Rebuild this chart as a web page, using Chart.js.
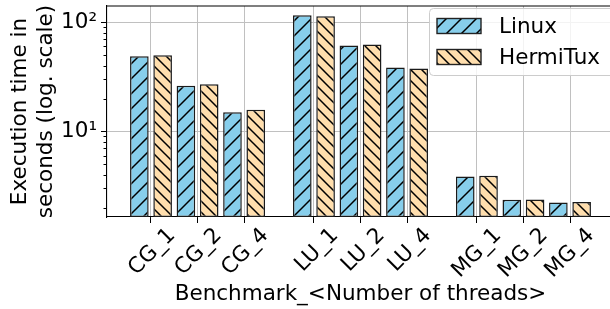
<!DOCTYPE html>
<html>
<head>
<meta charset="utf-8">
<script src="https://cdn.jsdelivr.net/npm/chart.js@4"></script>
<style>
  html, body { margin: 0; padding: 0; background: #fff; overflow: hidden; }
  #wrap { width: 610px; height: 309px; overflow: hidden; position: relative; }
  #wrap canvas { position: absolute; left: 0; top: 0; }
</style>
</head>
<body>
<div id="wrap"><canvas id="bench" width="615" height="309"></canvas></div>
<script>
var benchmarks = ["CG_1", "CG_2", "CG_4", "LU_1", "LU_2", "LU_4", "MG_1", "MG_2", "MG_4"];
var positions = [0, 1, 2, 3.5, 4.5, 5.5, 7, 8, 9];
var linuxTimes = [48.8, 26.2, 15.0, 115.9, 61.1, 38.4, 3.85, 2.36, 2.23];
var hermitTimes = [49.8, 27.0, 15.8, 113.5, 62.4, 37.6, 3.92, 2.37, 2.25];
var yMajorTicks = [10, 100];
var yMajorLabels = ["10\u00B9", "10\u00B2"];
var yMinorTicks = [2, 3, 4, 5, 6, 7, 8, 9, 20, 30, 40, 50, 60, 70, 80, 90];

var FONT = "'DejaVu Sans', sans-serif";
var FSIZE = 21.5;

// hatch fill, like matplotlib's '/' and '\' hatches
function makeHatch(bg, dir, step) {
  var c = document.createElement("canvas");
  c.width = step; c.height = step;
  var g = c.getContext("2d");
  g.fillStyle = bg;
  g.fillRect(0, 0, step, step);
  g.strokeStyle = "#000";
  g.lineWidth = 1.5;
  g.beginPath();
  if (dir === "/") {
    g.moveTo(0, step); g.lineTo(step, 0);
    g.moveTo(-2, 2); g.lineTo(2, -2);
    g.moveTo(step - 2, step + 2); g.lineTo(step + 2, step - 2);
  } else {
    g.moveTo(0, 0); g.lineTo(step, step);
    g.moveTo(step - 2, -2); g.lineTo(step + 2, 2);
    g.moveTo(-2, step - 2); g.lineTo(2, step + 2);
  }
  g.stroke();
  return g.createPattern(c, "repeat");
}

var linuxFill = makeHatch("#87ceeb", "/", 15);
var hermitFill = makeHatch("#ffdead", "\\", 11);

function toPoints(vals) {
  return vals.map(function (v, i) { return { x: positions[i], y: v }; });
}

// spines on top/right + minor log ticks
var frame = {
  id: "frame",
  afterDraw: function (chart) {
    var ctx = chart.ctx, a = chart.chartArea, y = chart.scales.y;
    ctx.save();
    ctx.strokeStyle = "#000";
    ctx.lineWidth = 1.1;
    ctx.beginPath();
    ctx.moveTo(a.left, a.top); ctx.lineTo(a.right, a.top);
    ctx.lineTo(a.right, a.bottom);
    ctx.stroke();
    ctx.lineWidth = 1;
    ctx.beginPath();
    yMinorTicks.forEach(function (v) {
      var p = Math.round(y.getPixelForValue(v)) + 0.5;
      ctx.moveTo(a.left - 3.5, p); ctx.lineTo(a.left, p);
    });
    ctx.stroke();
    ctx.restore();
  }
};

// matplotlib-style legend box in the upper right
var legendBox = {
  id: "legendBox",
  afterDraw: function (chart) {
    var ctx = chart.ctx, a = chart.chartArea;
    var x0 = a.right - 185, y0 = a.top + 2, w = 200, h = 67;
    ctx.save();
    ctx.beginPath();
    ctx.roundRect(x0 + 0.5, y0 + 0.5, w, h, 4);
    ctx.fillStyle = "rgba(255,255,255,0.8)";
    ctx.fill();
    ctx.strokeStyle = "#cccccc";
    ctx.lineWidth = 1;
    ctx.stroke();
    ctx.font = FSIZE + "px " + FONT;
    ctx.textBaseline = "alphabetic";
    chart.data.datasets.forEach(function (ds, i) {
      var ry = y0 + 10.5 + i * 31;
      ctx.fillStyle = ds.backgroundColor;
      ctx.fillRect(x0 + 8, ry, 44, 15);
      ctx.strokeStyle = "#222";
      ctx.lineWidth = 1.4;
      ctx.strokeRect(x0 + 8, ry, 44, 15);
      ctx.fillStyle = "#000";
      ctx.fillText(ds.label, x0 + 70, ry + 14);
    });
    ctx.restore();
  }
};

var ctx = document.getElementById("bench").getContext("2d");
var benchChart = new Chart(ctx, {
  type: "bar",
  data: {
    datasets: [
      {
        label: "Linux",
        data: toPoints(linuxTimes),
        backgroundColor: linuxFill,
        borderColor: "#1a1a1a",
        borderWidth: 1.5,
        borderSkipped: false
      },
      {
        label: "HermiTux",
        data: toPoints(hermitTimes),
        backgroundColor: hermitFill,
        borderColor: "#1a1a1a",
        borderWidth: 1.5,
        borderSkipped: false
      }
    ]
  },
  options: {
    responsive: false,
    animation: false,
    events: [],
    categoryPercentage: 1.0,
    barPercentage: 0.8,
    layout: { padding: { left: 0, right: 1, top: 6, bottom: 0 } },
    plugins: {
      legend: { display: false },
      tooltip: { enabled: false }
    },
    scales: {
      x: {
        type: "linear",
        min: -0.945,
        max: 9.945,
        offset: false,
        afterBuildTicks: function (s) {
          s.ticks = positions.map(function (v) { return { value: v }; });
        },
        afterFit: function (s) {
          s.height = 92;
          s.paddingLeft = 0; s.paddingRight = 0;
        },
        ticks: {
          autoSkip: false,
          minRotation: 45,
          maxRotation: 45,
          labelOffset: 21,
          padding: 0,
          color: "#000",
          font: { family: FONT, size: FSIZE },
          callback: function (v, i) { return benchmarks[i]; }
        },
        grid: { offset: false, color: "#c0c0c0", lineWidth: 1, tickColor: "#000", tickLength: 6 },
        border: { color: "#000", width: 1.1 },
        title: {
          display: true,
          text: "Benchmark_<Number of threads>",
          color: "#000",
          font: { family: FONT, size: FSIZE },
          padding: { top: 0, bottom: 2 }
        }
      },
      y: {
        type: "logarithmic",
        min: 1.64,
        max: 141,
        afterBuildTicks: function (s) {
          s.ticks = yMajorTicks.map(function (v) { return { value: v, major: true }; });
        },
        afterFit: function (s) {
          s.width = 107;
          s.paddingTop = 0; s.paddingBottom = 0;
        },
        ticks: {
          padding: 4,
          color: "#000",
          font: { family: FONT, size: FSIZE },
          callback: function (v, i) { return yMajorLabels[i]; }
        },
        grid: { color: "#c0c0c0", lineWidth: 1, tickColor: "#000", tickLength: 6 },
        border: { color: "#000", width: 1.1 },
        title: {
          display: true,
          text: ["Execution time in", "seconds (log. scale)"],
          color: "#000",
          font: { family: FONT, size: FSIZE, lineHeight: 1.2 },
          padding: { top: 8, bottom: 0 }
        }
      }
    }
  },
  plugins: [frame, legendBox]
});
</script>
</body>
</html>
